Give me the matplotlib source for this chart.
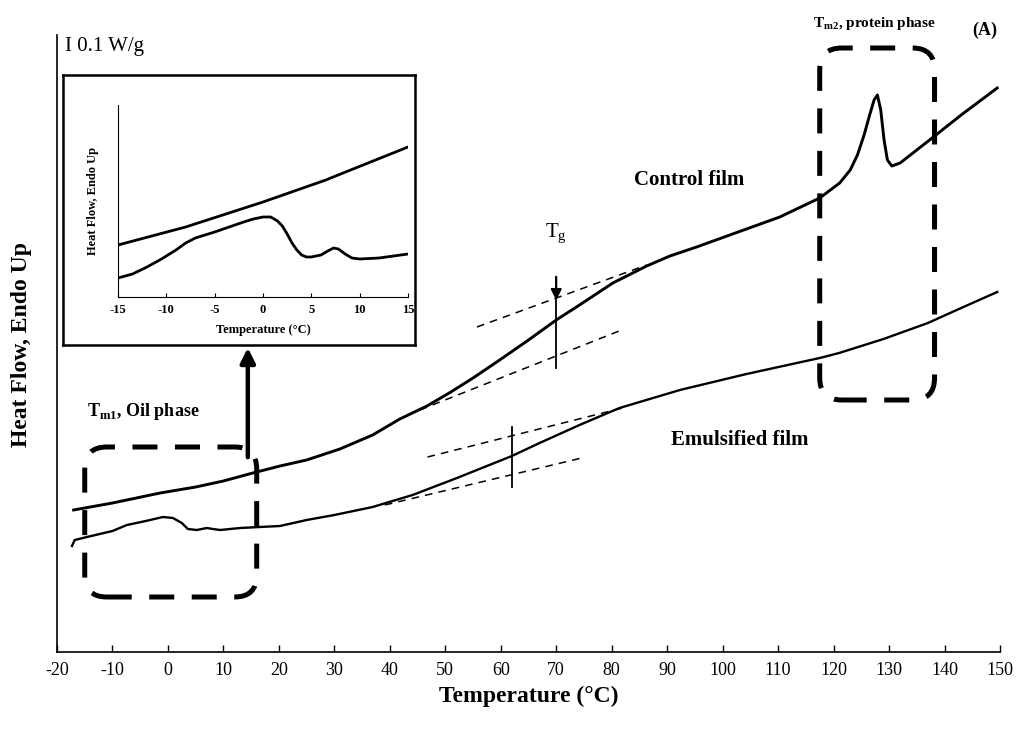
import matplotlib
matplotlib.use("Agg")
import matplotlib.pyplot as plt
from matplotlib.patches import FancyBboxPatch
from matplotlib.transforms import IdentityTransform

plt.rcParams['font.family'] = ['Liberation Serif', 'DejaVu Serif']
plt.rcParams['mathtext.fontset'] = 'custom'
plt.rcParams['mathtext.rm'] = 'Liberation Serif'
plt.rcParams['mathtext.bf'] = 'Liberation Serif:bold'

# ---- main DSC curves (temperature in °C, heat flow in arbitrary units) ----
control_T = [-17, -10, -1.4, 5, 10, 15.3, 20.2, 25, 31, 36.9, 41.8, 46.7, 51,
             55, 59.8, 65, 70, 74.2, 80.2, 86.3, 90.5, 95.3, 104.3, 110.3,
             117.5, 121.1, 123, 124.3, 125.5, 126.5, 127.3, 127.9, 128.5,
             129.1, 129.7, 130.5, 132, 137.3, 143, 149.5]
control_HF = [1.42, 1.49, 1.59, 1.65, 1.71, 1.79, 1.86, 1.92, 2.03, 2.17, 2.33,
              2.46, 2.60, 2.74, 2.92, 3.12, 3.32, 3.47, 3.69, 3.86, 3.96, 4.05,
              4.23, 4.35, 4.54, 4.69, 4.82, 4.97, 5.17, 5.37, 5.52, 5.57, 5.42,
              5.12, 4.92, 4.86, 4.89, 5.12, 5.37, 5.64]

emuls_T = [-17.3, -16.8, -14.6, -10, -7.4, -4, -0.9, 0.9, 2.5, 3.6, 5.2, 7,
           8.1, 9.4, 13, 20.2, 25, 30, 36.9, 44.1, 52.1, 62, 67, 74.2, 81.4,
           92.3, 104.3, 117.5, 121, 129, 137, 143, 149.5]
emuls_HF = [1.06, 1.12, 1.15, 1.21, 1.27, 1.31, 1.35, 1.34, 1.29, 1.23, 1.22,
            1.24, 1.23, 1.22, 1.24, 1.26, 1.32, 1.37, 1.45, 1.57, 1.74, 1.96,
            2.09, 2.27, 2.44, 2.62, 2.78, 2.94, 2.99, 3.13, 3.29, 3.44, 3.60]

# ---- inset curves ----
inset_top_T = [-15, -8, 0, 6.5, 7, 15]
inset_top_HF = [0.52, 0.70, 0.95, 1.17, 1.19, 1.50]
inset_bot_T = [-15, -13.5, -12, -10.5, -9, -8, -7, -6, -5, -3.5, -2, -1, 0,
               0.8, 1.5, 2, 2.5, 3, 3.5, 4, 4.5, 5, 6, 6.7, 7.3, 7.8, 8.5, 9.2,
               10, 12, 15]
inset_bot_HF = [0.19, 0.23, 0.30, 0.38, 0.47, 0.54, 0.59, 0.62, 0.65, 0.70,
                0.75, 0.78, 0.80, 0.80, 0.76, 0.71, 0.63, 0.54, 0.47, 0.42,
                0.40, 0.40, 0.42, 0.46, 0.49, 0.48, 0.43, 0.39, 0.38, 0.39, 0.43]

x_ticks = list(range(-20, 151, 10))
inset_ticks = [-15, -10, -5, 0, 5, 10, 15]

# Tangent construction lines for Tg
ctrl_tan_up = ([55.7, 86.3], [3.25, 3.87])
ctrl_tan_lo = ([45.4, 81.8], [2.42, 3.22])
ctrl_tg = ([70, 70], [3.75, 2.84])
emul_tan_up = ([46.8, 82.7], [1.95, 2.45])
emul_tan_lo = ([39.1, 74.6], [1.47, 1.94])
emul_tg = ([62, 62], [2.25, 1.65])

fig = plt.figure(figsize=(10.19, 7.29), dpi=100)
ax = fig.add_axes([57/1019, 1-652/729, 943/1019, 617/729])
ax.set_xlim(-20, 150)
ax.set_ylim(0, 6.17)
for s in ['top', 'right']:
    ax.spines[s].set_visible(False)
for s in ['left', 'bottom']:
    ax.spines[s].set_linewidth(1.2)
ax.set_yticks([])
ax.set_xticks(x_ticks)
ax.set_xticklabels([str(t) for t in x_ticks], fontsize=13)
ax.tick_params(axis='x', direction='in', length=5, width=1, pad=7)

ax.plot(control_T, control_HF, color='black', lw=2.1, solid_joinstyle='round')
ax.plot(emuls_T, emuls_HF, color='black', lw=1.7, solid_joinstyle='round')

for (xs, ys) in [ctrl_tan_up, ctrl_tan_lo, emul_tan_up, emul_tan_lo]:
    ax.plot(xs, ys, color='black', lw=1.1, linestyle=(0, (5, 4)))
for (xs, ys) in [ctrl_tg, emul_tg]:
    ax.plot(xs, ys, color='black', lw=1.3)

ax.set_xlabel('Temperature (°C)', fontsize=17, fontweight='bold', labelpad=5)
fig.text(22/1019, 1-345/729, 'Heat Flow, Endo Up', rotation=90, fontsize=17,
         fontweight='bold', ha='center', va='center')

# Texts
ax.text(94, 4.72, 'Control film', fontsize=15, fontweight='bold', ha='center', va='center')
ax.text(103, 2.12, 'Emulsified film', fontsize=15, fontweight='bold', ha='center', va='center')
ax.text(-14.6, 2.40, r'T$_{\mathregular{m1}}$, Oil phase', fontsize=13,
        fontweight='bold', ha='left', va='center')
ax.text(127.4, 6.28, r'T$_{\mathregular{m2}}$, protein phase', fontsize=11,
        fontweight='bold', ha='center', va='center', clip_on=False)
ax.text(147.2, 6.22, '(A)', fontsize=13, fontweight='bold', ha='center',
        va='center', clip_on=False)
ax.text(-18.6, 6.05, 'I 0.1 W/g', fontsize=15, ha='left', va='center', clip_on=False)
ax.text(70, 4.18, r'T$_{\mathregular{g}}$', fontsize=15, ha='center', va='center')

# Arrows
ax.annotate('', xy=(70, 3.49), xytext=(70, 3.78),
            arrowprops=dict(arrowstyle='-|>', color='black', lw=1.5, mutation_scale=16))
ax.annotate('', xy=(14.4, 3.07), xytext=(14.4, 1.92),
            arrowprops=dict(arrowstyle='-|>', color='black', lw=3.2, mutation_scale=22))

# Dashed rounded boxes (data-space corners, drawn in pixel space to keep round corners)
fig.canvas.draw()
def dashed_box(t0, h0, t1, h1):
    (x0, y0) = ax.transData.transform((t0, h0))
    (x1, y1) = ax.transData.transform((t1, h1))
    p = FancyBboxPatch((x0, y0), x1 - x0, y1 - y0,
                       boxstyle='round,pad=0,rounding_size=22',
                       transform=IdentityTransform(), fill=False,
                       edgecolor='black', lw=3.6, linestyle=(0, (5, 3.5)))
    fig.add_artist(p)

dashed_box(-15, 0.55, 16, 2.05)
dashed_box(117.5, 2.52, 138.2, 6.04)

# Inset frame
frame = fig.add_axes([63/1019, 1-345/729, 352/1019, 270/729])
frame.set_xticks([]); frame.set_yticks([])
frame.set_facecolor('white')
for s in frame.spines.values():
    s.set_linewidth(1.8)

ins = fig.add_axes([118/1019, 1-297/729, 290/1019, 192/729])
ins.set_facecolor('none')
ins.set_xlim(-15, 15)
ins.set_ylim(0, 1.92)
for s in ['top', 'right']:
    ins.spines[s].set_visible(False)
ins.set_yticks([])
ins.set_xticks(inset_ticks)
ins.set_xticklabels([str(t) for t in inset_ticks], fontsize=9, fontweight='bold')
ins.tick_params(axis='x', direction='in', length=3, pad=5)
ins.plot(inset_top_T, inset_top_HF, color='black', lw=2.0)
ins.plot(inset_bot_T, inset_bot_HF, color='black', lw=2.0, solid_joinstyle='round')
ins.set_xlabel('Temperature (°C)', fontsize=9, fontweight='bold', labelpad=6)
ins.set_ylabel('Heat Flow, Endo Up', fontsize=9, fontweight='bold', labelpad=14)

fig.savefig('out.png', dpi=100)
